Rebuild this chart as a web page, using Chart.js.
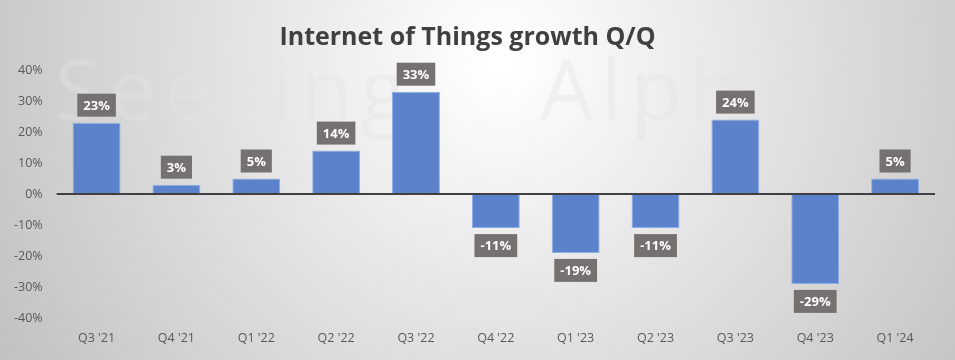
<!DOCTYPE html>
<html>
<head>
<meta charset="utf-8">
<script src="https://cdn.jsdelivr.net/npm/chart.js@4/dist/chart.umd.min.js"></script>
<style>
  html, body { margin: 0; padding: 0; background: #fff; }
  #wrap { width: 955px; height: 360px; position: relative; }
</style>
</head>
<body>
<div id="wrap"><canvas id="myChart" width="955" height="360"></canvas></div>
<script>
// chart data
const quarters = ["Q3 '21", "Q4 '21", "Q1 '22", "Q2 '22", "Q3 '22", "Q4 '22", "Q1 '23", "Q2 '23", "Q3 '23", "Q4 '23", "Q1 '24"];
const growth = [23, 3, 5, 14, 33, -11, -19, -11, 24, -29, 5];
const yTicks = [-40, -30, -20, -10, 0, 10, 20, 30, 40];

// gradient background + faint watermark
const backdrop = {
  id: "backdrop",
  beforeDraw(chart) {
    const c = chart.ctx;
    const w = chart.width, h = chart.height;
    c.save();
    const g = c.createRadialGradient(500, 60, 10, 500, 60, 620);
    g.addColorStop(0, "#ffffff");
    g.addColorStop(1, "#bdbdbd");
    c.fillStyle = g;
    c.fillRect(0, 0, w, h);
    c.font = "84px 'Open Sans', sans-serif";
    c.letterSpacing = "8px";
    c.fillStyle = "rgba(228,228,228,0.4)";
    c.textBaseline = "alphabetic";
    c.fillText("Seeking", 55, 120);
    c.fillText("Alpha", 540, 120);
    c.restore();
  },
};

// zero line and value boxes
const valueBoxes = {
  id: "valueBoxes",
  afterDatasetsDraw(chart) {
    const c = chart.ctx;
    const y0 = chart.scales.y.getPixelForValue(0);
    const area = chart.chartArea;
    c.save();
    c.strokeStyle = "#404040";
    c.lineWidth = 2;
    c.beginPath();
    c.moveTo(area.left, y0);
    c.lineTo(area.right, y0);
    c.stroke();

    c.font = "bold 13px 'Open Sans', sans-serif";
    c.textAlign = "center";
    c.textBaseline = "middle";
    chart.getDatasetMeta(0).data.forEach((bar, i) => {
      const v = growth[i];
      const txt = v + "%";
      const bw = c.measureText(txt).width + 12;
      const bh = 23;
      const cy = v >= 0 ? bar.y - 6 - bh / 2 : bar.y + 6 + bh / 2;
      c.fillStyle = "#767171";
      c.fillRect(bar.x - bw / 2, cy - bh / 2, bw, bh);
      c.fillStyle = "#ffffff";
      c.fillText(txt, bar.x, cy + 1);
    });
    c.restore();
  },
};

const ctx = document.getElementById("myChart");
new Chart(ctx, {
  type: "bar",
  data: {
    labels: quarters,
    datasets: [
      {
        data: growth,
        backgroundColor: "#5b82ca",
        borderColor: "#8eaee6",
        borderWidth: 1,
        categoryPercentage: 1,
        barPercentage: 0.6,
      },
    ],
  },
  options: {
    responsive: false,
    animation: false,
    layout: { padding: { left: 0, right: 20, top: 0, bottom: 1 } },
    scales: {
      y: {
        min: -40,
        max: 40,
        afterBuildTicks: (axis) => {
          axis.ticks = yTicks.map((v) => ({ value: v }));
        },
        grid: { display: false, drawTicks: false },
        border: { display: false },
        ticks: {
          color: "#595959",
          font: { size: 12.5, family: "'Open Sans', sans-serif" },
          padding: 14,
          callback: (v) => v + "%",
        },
      },
      x: {
        grid: { display: false, drawTicks: false },
        border: { display: false },
        ticks: {
          color: "#595959",
          font: { size: 12.5, family: "'Open Sans', sans-serif" },
          padding: 13,
        },
      },
    },
    plugins: {
      legend: { display: false },
      tooltip: { enabled: false },
      title: {
        display: true,
        text: "Internet of Things growth Q/Q",
        color: "#404040",
        font: { size: 25, weight: "bold", family: "'Open Sans', sans-serif" },
        padding: { top: 23, bottom: 17 },
      },
    },
  },
  plugins: [backdrop, valueBoxes],
});
</script>
</body>
</html>
